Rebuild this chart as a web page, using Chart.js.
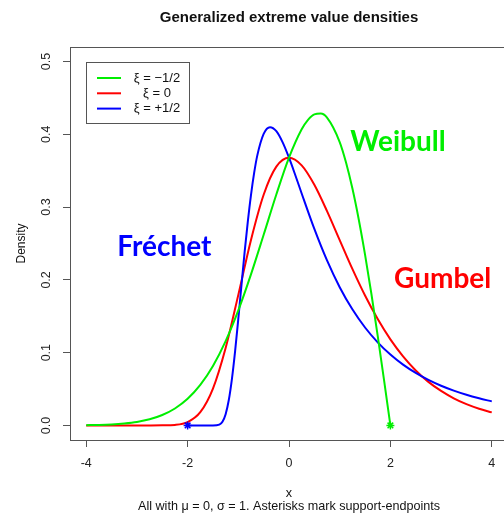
<!DOCTYPE html>
<html>
<head>
<meta charset="utf-8">
<script src="https://cdn.jsdelivr.net/npm/chart.js@4/dist/chart.umd.min.js"></script>
<style>
  html, body { margin: 0; padding: 0; background: #fff; }
  #wrap { width: 504px; height: 513px; overflow: hidden; position: relative; }
  #c { position: absolute; left: 0; top: 0; }
</style>
</head>
<body>
<div id="wrap"><canvas id="c" width="520" height="513"></canvas></div>
<script>
// GEV densities, mu = 0, sigma = 1
const weibullX = [-4, -3.75, -3.5, -3.25, -3, -2.75, -2.5, -2.25, -2, -1.75, -1.5, -1.25, -1, -0.75, -0.5, -0.25, 0, 0.25, 0.375, 0.5, 0.625, 0.75, 1, 1.125, 1.25, 1.375, 1.5, 1.625, 1.75, 1.875, 2];
const weibullY = [0.0004, 0.0007, 0.0014, 0.0027, 0.0048, 0.0084, 0.0143, 0.0233, 0.0366, 0.0557, 0.0818, 0.1159, 0.1581, 0.2076, 0.2620, 0.3173, 0.3679, 0.4069, 0.4199, 0.4274, 0.4285, 0.4229, 0.3894, 0.3613, 0.3258, 0.2834, 0.2348, 0.1810, 0.1231, 0.0623, 0];

const gumbelX = [-4, -3.5, -3, -2.75, -2.5, -2.25, -2, -1.75, -1.5, -1.25, -1, -0.75, -0.5, -0.25, 0, 0.25, 0.5, 0.75, 1, 1.25, 1.5, 1.75, 2, 2.25, 2.5, 2.75, 3, 3.25, 3.5, 3.75, 4];
const gumbelY = [0, 0, 0, 0, 0.0001, 0.0007, 0.0046, 0.0182, 0.0507, 0.1064, 0.1794, 0.2549, 0.3170, 0.3556, 0.3679, 0.3574, 0.3307, 0.2945, 0.2547, 0.2151, 0.1785, 0.1461, 0.1182, 0.0949, 0.0756, 0.0599, 0.0474, 0.0373, 0.0293, 0.0230, 0.0180];

const frechetX = [-2, -1.75, -1.5, -1.375, -1.3125, -1.25, -1.1875, -1.125, -1.0625, -1, -0.9375, -0.875, -0.8125, -0.75, -0.6875, -0.625, -0.5, -0.375, -0.25, -0.125, 0, 0.125, 0.25, 0.5, 0.75, 1, 1.25, 1.5, 1.75, 2, 2.25, 2.5, 2.75, 3, 3.25, 3.5, 3.75, 4];
const frechetY = [0, 0, 0, 0.0012, 0.0052, 0.0155, 0.0349, 0.0644, 0.1025, 0.1465, 0.1928, 0.2384, 0.2801, 0.3166, 0.3470, 0.3711, 0.4006, 0.4098, 0.4044, 0.3890, 0.3679, 0.3438, 0.3187, 0.2700, 0.2267, 0.1900, 0.1596, 0.1346, 0.1142, 0.0974, 0.0835, 0.0721, 0.0625, 0.0545, 0.0478, 0.0421, 0.0373, 0.0331];

// support endpoints (asterisks)
const frechetEndX = [-2];
const weibullEndX = [2];
const endY = [0];

const xTicks = [-4, -2, 0, 2, 4];
const yTicks = [0, 0.1, 0.2, 0.3, 0.4, 0.5];

const legendLabels = ['\u03BE = \u22121/2', '\u03BE = 0', '\u03BE = +1/2'];
const familyNames = ['Weibull', 'Gumbel', 'Fr\u00E9chet'];

const GREEN = '#00ee00', RED = '#ff0000', BLUE = '#0000ff';
const FRAME = '#555555';
const FONT = "'Liberation Sans', Arial, sans-serif";

const pts = (xs, ys) => xs.map((x, i) => ({ x: x, y: ys[i] }));

const curve = (data, color, order) => ({
  data: data, borderColor: color, borderWidth: 2, pointRadius: 0,
  cubicInterpolationMode: 'monotone', fill: false, order: order
});

const framePlugin = {
  id: 'frame',
  afterDraw(chart) {
    const { ctx, chartArea: a, scales } = chart;
    ctx.save();
    // plot box
    ctx.strokeStyle = FRAME;
    ctx.lineWidth = 1;
    ctx.strokeRect(Math.round(a.left) + 0.5, Math.round(a.top) + 0.5,
                   Math.round(a.right - a.left), Math.round(a.bottom - a.top));

    // legend box
    const lx = 86, ly = 62, lw = 103, lh = 61;
    ctx.fillStyle = '#fff';
    ctx.fillRect(lx, ly, lw, lh);
    ctx.strokeRect(lx + 0.5, ly + 0.5, lw, lh);
    const colors = [GREEN, RED, BLUE];
    ctx.font = '13px ' + FONT;
    ctx.textAlign = 'center';
    ctx.textBaseline = 'middle';
    colors.forEach((c, i) => {
      const y = 78 + i * 15.3;
      ctx.strokeStyle = c;
      ctx.lineWidth = 2;
      ctx.beginPath();
      ctx.moveTo(97, y);
      ctx.lineTo(121, y);
      ctx.stroke();
      ctx.fillStyle = '#111';
      ctx.fillText(legendLabels[i], 157, y);
    });

    // family names
    const x = scales.x, yS = scales.y;
    ctx.font = "bold 28px Lato, 'Open Sans', sans-serif";
    ctx.textBaseline = 'alphabetic';
    const notes = [
      { t: familyNames[0], c: GREEN, x: 2.15, y: 0.377 },
      { t: familyNames[1], c: RED, x: 3.03, y: 0.189 },
      { t: familyNames[2], c: BLUE, x: -2.46, y: 0.2335 }
    ];
    notes.forEach(n => {
      ctx.fillStyle = n.c;
      ctx.fillText(n.t, x.getPixelForValue(n.x), yS.getPixelForValue(n.y));
    });
    ctx.restore();
  }
};

new Chart(document.getElementById('c'), {
  type: 'line',
  data: {
    datasets: [
      curve(pts(weibullX, weibullY), GREEN, 0),
      curve(pts(frechetX, frechetY), BLUE, 1),
      curve(pts(gumbelX, gumbelY), RED, 2),
      { data: pts(frechetEndX, endY), showLine: false, pointStyle: 'star', pointRadius: 4,
        borderColor: BLUE, borderWidth: 1.5, order: -1 },
      { data: pts(weibullEndX, endY), showLine: false, pointStyle: 'star', pointRadius: 4,
        borderColor: GREEN, borderWidth: 1.5, order: -1 }
    ]
  },
  options: {
    responsive: false,
    animation: false,
    events: [],
    layout: { padding: { left: 0, top: 0, right: 12, bottom: 0 } },
    plugins: {
      legend: { display: false },
      tooltip: { enabled: false },
      title: {
        display: true,
        text: 'Generalized extreme value densities',
        fullSize: false,
        color: '#111',
        font: { family: FONT, size: 15, weight: 'bold', lineHeight: 1.2 },
        padding: { top: 9, bottom: 20 }
      }
    },
    scales: {
      x: {
        type: 'linear',
        min: -4.32, max: 4.32,
        afterBuildTicks: s => { s.ticks = xTicks.map(v => ({ value: v })); },
        afterFit: s => { s.height = 73; },
        grid: { drawOnChartArea: false, tickLength: 7, color: FRAME, lineWidth: 1 },
        border: { display: false },
        ticks: { color: '#222', font: { family: FONT, size: 12.5 }, padding: 9,
                 maxRotation: 0, callback: v => String(v) },
        title: {
          display: true,
          text: ['x', 'All with \u03BC = 0, \u03C3 = 1. Asterisks mark support-endpoints'],
          color: '#111',
          font: { family: FONT, size: 12.6, lineHeight: 1.05 },
          padding: { top: 0, bottom: 0 }
        }
      },
      y: {
        type: 'linear',
        min: -0.02, max: 0.52,
        afterBuildTicks: s => { s.ticks = yTicks.map(v => ({ value: v })); },
        afterCalculateLabelRotation: s => { s.labelRotation = 90; },
        afterFit: s => { s.width = 70; },
        grid: { drawOnChartArea: false, tickLength: 7, color: FRAME, lineWidth: 1 },
        border: { display: false },
        ticks: { color: '#222', font: { family: FONT, size: 12.5 }, padding: 8,
                 crossAlign: 'center', callback: v => v.toFixed(1) },
        title: {
          display: true,
          text: 'Density',
          color: '#111',
          font: { family: FONT, size: 12, lineHeight: 1.2 },
          padding: { top: 14, bottom: 0 }
        }
      }
    }
  },
  plugins: [framePlugin]
});
</script>
</body>
</html>
